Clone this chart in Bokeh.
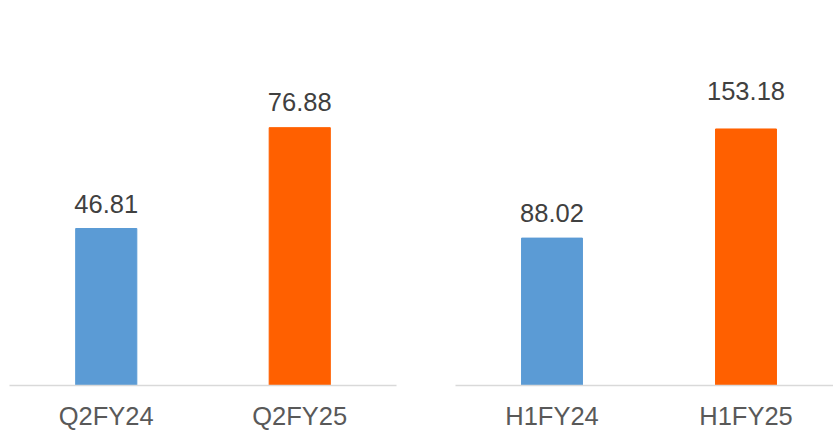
from bokeh.plotting import figure
from bokeh.models import ColumnDataSource, LabelSet, Range1d, FixedTicker
from bokeh.core.properties import value
from bokeh.layouts import row
from bokeh.embed import file_html
from bokeh.resources import INLINE

# ---- data ----
cats_q = ["Q2FY24", "Q2FY25"]
vals_q = [46.81, 76.88]
cats_h = ["H1FY24", "H1FY25"]
vals_h = [88.02, 153.18]
bar_colors = ["#5B9BD5", "#FF6000"]

FONT = "Liberation Sans"


def make_panel(cats, vals, width, x_start, x_end, y_end, bar_w, mb_left, mb_right, lab_offsets):
    xs = [i + 0.5 for i in range(len(cats))]
    src = ColumnDataSource(dict(
        x=xs,
        val=vals,
        lab=["%.2f" % v for v in vals],
        color=bar_colors[:len(cats)],
        yoff=lab_offsets,
    ))
    p = figure(width=width, height=433, output_backend="svg", toolbar_location=None,
               x_range=Range1d(x_start, x_end), y_range=Range1d(0, y_end),
               y_axis_location=None, min_border_left=mb_left, min_border_right=mb_right,
               min_border_top=0, min_border_bottom=48)
    p.vbar(x="x", top="val", width=bar_w, color="color", source=src)
    p.xgrid.visible = False
    p.ygrid.visible = False
    p.outline_line_color = None
    ax = p.xaxis[0]
    ax.ticker = FixedTicker(ticks=xs)
    ax.major_label_overrides = {x: c for x, c in zip(xs, cats)}
    ax.axis_line_color = "#D9D9D9"
    ax.axis_line_width = 1.5
    ax.major_tick_line_color = None
    ax.minor_tick_line_color = None
    ax.major_label_standoff = 10
    ax.major_label_text_font = FONT
    ax.major_label_text_font_size = "25.5px"
    ax.major_label_text_color = "#595959"

    p.add_layout(LabelSet(x="x", y="val", text="lab", source=src, text_align="center",
                          text_baseline="alphabetic", y_offset="yoff",
                          text_font=value(FONT), text_font_size=value("25.5px"),
                          text_color="#404040"))
    return p


p1 = make_panel(cats_q, vals_q, 425, 0.0, 2.0, 114.8, 0.316, 9, 29, [16, 17])
p2 = make_panel(cats_h, vals_h, 408, 0.0026, 1.951, 229.9, 0.314, 30, 0, [16, 29])

layout = row(p1, p2)
open("out.html", "w").write(file_html(layout, INLINE))
